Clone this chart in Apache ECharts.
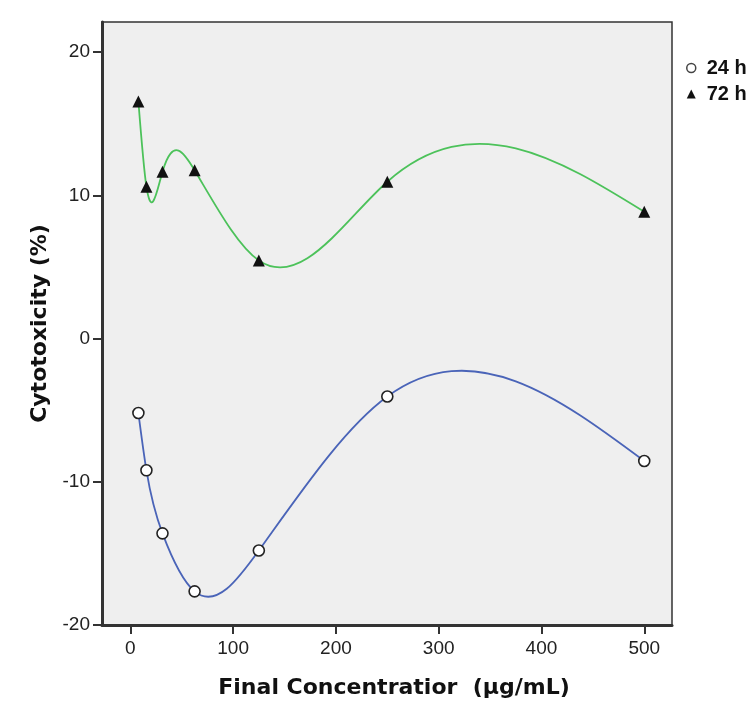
<!DOCTYPE html>
<html>
<head>
<meta charset="utf-8">
<script src="https://cdn.jsdelivr.net/npm/echarts@6/dist/echarts.min.js"></script>
<style>
  html, body { margin: 0; padding: 0; background: #fff; }
  #chart { width: 756px; height: 726px; }
</style>
</head>
<body>
<div id="chart"></div>
<script>
// concentration (µg/mL) and cytotoxicity (%)
const concentrations = [7.8125, 15.625, 31.25, 62.5, 125, 250, 500]
const cyto24h = [-5.2, -9.2, -13.6, -17.65, -14.8, -4.05, -8.55]
const cyto72h = [16.55, 10.6, 11.65, 11.75, 5.45, 10.95, 8.85]
const xTicks = [0, 100, 200, 300, 400, 500]
const yTicks = [-20, -10, 0, 10, 20]

// slopes of a natural cubic spline through the points (the interpolation line)
function splineSlopes(xs, ys) {
  const n = xs.length
  const h = []
  for (let i = 0; i < n - 1; i++) h.push(xs[i + 1] - xs[i])
  // tridiagonal system for second derivatives, M0 = Mn-1 = 0
  const M = new Array(n).fill(0)
  const a = [], b = [], c = [], d = []
  for (let i = 1; i < n - 1; i++) {
    a.push(h[i - 1])
    b.push(2 * (h[i - 1] + h[i]))
    c.push(h[i])
    d.push(6 * ((ys[i + 1] - ys[i]) / h[i] - (ys[i] - ys[i - 1]) / h[i - 1]))
  }
  const m = b.length
  for (let i = 1; i < m; i++) {
    const w = a[i] / b[i - 1]
    b[i] -= w * c[i - 1]
    d[i] -= w * d[i - 1]
  }
  const sol = new Array(m)
  sol[m - 1] = d[m - 1] / b[m - 1]
  for (let i = m - 2; i >= 0; i--) sol[i] = (d[i] - c[i] * sol[i + 1]) / b[i]
  for (let i = 0; i < m; i++) M[i + 1] = sol[i]
  const s = []
  for (let i = 0; i < n - 1; i++) {
    s.push((ys[i + 1] - ys[i]) / h[i] - h[i] * (2 * M[i] + M[i + 1]) / 6)
  }
  s.push((ys[n - 1] - ys[n - 2]) / h[n - 2] + h[n - 2] * (M[n - 2] + 2 * M[n - 1]) / 6)
  return s
}

function curveSeries(name, ys, color) {
  const slopes = splineSlopes(concentrations, ys)
  return {
    type: 'custom',
    name: name,
    silent: true,
    z: 2,
    data: concentrations.map((x, i) => [x, ys[i]]),
    renderItem(params, api) {
      const i = params.dataIndex
      if (i >= concentrations.length - 1) return null
      const x0 = concentrations[i], x1 = concentrations[i + 1]
      const h = x1 - x0
      const p0 = api.coord([x0, ys[i]])
      const p1 = api.coord([x1, ys[i + 1]])
      const c0 = api.coord([x0 + h / 3, ys[i] + slopes[i] * h / 3])
      const c1 = api.coord([x1 - h / 3, ys[i + 1] - slopes[i + 1] * h / 3])
      return {
        type: 'bezierCurve',
        shape: {
          x1: p0[0], y1: p0[1], x2: p1[0], y2: p1[1],
          cpx1: c0[0], cpy1: c0[1], cpx2: c1[0], cpy2: c1[1]
        },
        style: { stroke: color, lineWidth: 1.8, fill: null }
      }
    }
  }
}

const tickFont = { fontFamily: 'Liberation Sans', fontSize: 19, color: '#222' }
const titleFont = { fontFamily: 'DejaVu Sans', fontWeight: 'bold', fontSize: 22, color: '#111' }

const option = {
  animation: false,
  backgroundColor: '#fff',
  grid: {
    left: 102, right: 84, top: 22, bottom: 101,
    outerBoundsMode: 'none',
    show: true,
    backgroundColor: '#efefef',
    borderColor: '#333',
    borderWidth: 1.5
  },
  legend: {
    orient: 'vertical',
    left: 686,
    top: 58,
    padding: 0,
    itemWidth: 9,
    itemHeight: 9,
    itemGap: 6,
    textStyle: { fontFamily: 'Liberation Sans', fontWeight: 'bold', fontSize: 20, color: '#111', padding: [0, 0, 0, 6] },
    data: [
      { name: '24 h', icon: 'circle', itemStyle: { color: '#fff', borderColor: '#444', borderWidth: 1.5 } },
      { name: '72 h', icon: 'triangle', itemStyle: { color: '#111' } }
    ]
  },
  xAxis: {
    type: 'value',
    min: -27.6,
    max: 527,
    name: 'Final Concentratior  (µg/mL)',
    nameLocation: 'middle',
    nameGap: 52,
    nameTextStyle: Object.assign({ padding: [0, 0, 0, 14] }, titleFont),
    splitLine: { show: false },
    axisLine: { show: true, onZero: false, lineStyle: { color: '#333', width: 3 } },
    axisTick: { show: true, length: 9, customValues: xTicks, lineStyle: { color: '#333', width: 2 } },
    axisLabel: Object.assign({ margin: 14, customValues: xTicks }, tickFont)
  },
  yAxis: {
    type: 'value',
    min: -20,
    max: 22.1,
    name: 'Cytotoxicity (%)',
    nameLocation: 'middle',
    nameGap: 50,
    nameTextStyle: titleFont,
    splitLine: { show: false },
    axisLine: { show: true, onZero: false, lineStyle: { color: '#333', width: 3 } },
    axisTick: { show: true, length: 9, customValues: yTicks, lineStyle: { color: '#333', width: 2 } },
    axisLabel: Object.assign({ margin: 12, customValues: yTicks }, tickFont)
  },
  series: [
    curveSeries('24 h curve', cyto24h, '#4a64b8'),
    curveSeries('72 h curve', cyto72h, '#4cc25a'),
    {
      type: 'scatter',
      name: '24 h',
      z: 5,
      symbol: 'circle',
      symbolSize: 11,
      itemStyle: { color: '#fff', borderColor: '#222', borderWidth: 1.6, opacity: 1 },
      data: concentrations.map((x, i) => [x, cyto24h[i]])
    },
    {
      type: 'scatter',
      name: '72 h',
      z: 5,
      symbol: 'triangle',
      symbolSize: 12,
      itemStyle: { color: '#111', opacity: 1 },
      data: concentrations.map((x, i) => [x, cyto72h[i]])
    }
  ]
}

const myChart = echarts.init(document.getElementById('chart'))
myChart.setOption(option)
</script>
</body>
</html>
